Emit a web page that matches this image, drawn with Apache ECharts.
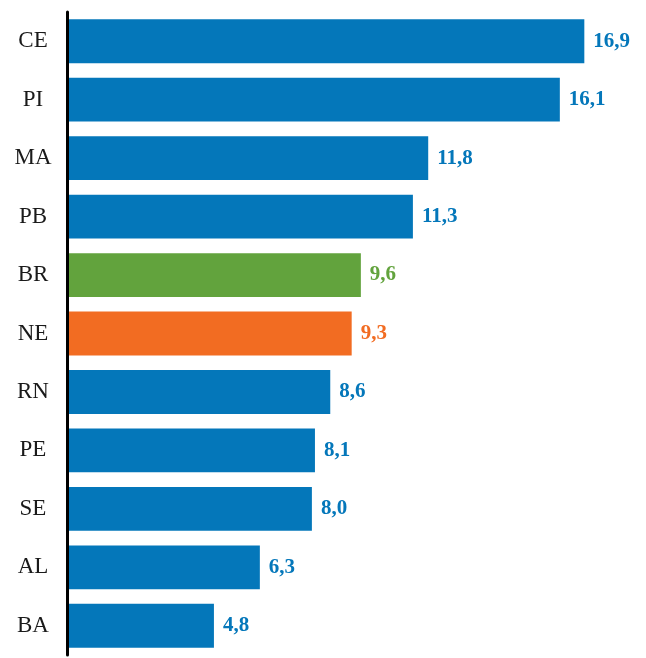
<!DOCTYPE html>
<html>
<head>
<meta charset="utf-8">
<script src="https://cdn.jsdelivr.net/npm/echarts@6/dist/echarts.min.js"></script>
<style>
  html, body { margin: 0; padding: 0; background: #fff; }
  #chart { width: 646px; height: 658px; }
</style>
</head>
<body>
<div id="chart"></div>
<script>
// estados, de cima para baixo
const states = ['CE', 'PI', 'MA', 'PB', 'BR', 'NE', 'RN', 'PE', 'SE', 'AL', 'BA'];
const values = [16.9, 16.1, 11.8, 11.3, 9.6, 9.3, 8.6, 8.1, 8.0, 6.3, 4.8];

const BLUE = '#0477BA';
const GREEN = '#62A33D';
const ORANGE = '#F26C22';
const colorOf = s => s === 'BR' ? GREEN : (s === 'NE' ? ORANGE : BLUE);

const chart = echarts.init(document.getElementById('chart'));

const option = {
  animation: false,
  grid: { left: 67, right: 28, top: 12, bottom: 3, containLabel: false },
  xAxis: {
    type: 'value',
    min: 0,
    max: 18,
    show: false
  },
  yAxis: {
    type: 'category',
    data: states,
    inverse: true,
    z: 3,
    axisLine: { show: true, lineStyle: { color: '#000', width: 3 } },
    axisTick: { show: false },
    axisLabel: {
      align: 'center',
      margin: 34,
      color: '#1a1a1a',
      fontFamily: 'Liberation Serif',
      fontSize: 23
    }
  },
  series: [{
    type: 'bar',
    barCategoryGap: '25%',
    data: values.map((v, i) => ({
      value: v,
      itemStyle: { color: colorOf(states[i]) },
      label: { color: colorOf(states[i]) }
    })),
    label: {
      show: true,
      position: 'right',
      distance: 9,
      fontFamily: 'Liberation Serif',
      fontWeight: 'bold',
      fontSize: 21,
      formatter: p => p.value.toFixed(1).replace('.', ',')
    }
  }]
};

chart.setOption(option);
</script>
</body>
</html>
